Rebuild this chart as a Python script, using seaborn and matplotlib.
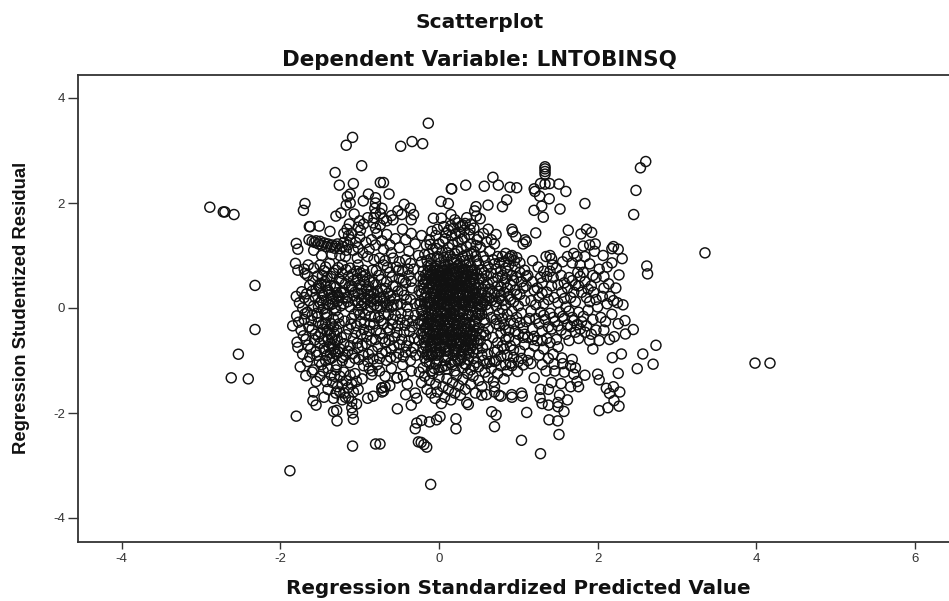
import matplotlib
matplotlib.use("Agg")
import matplotlib.pyplot as plt
import seaborn as sns
import pandas as pd

title_main = "Scatterplot"
title_sub = "Dependent Variable: LNTOBINSQ"
x_label = "Regression Standardized Predicted Value"
y_label = "Regression Studentized Residual"
x_ticks = [-4, -2, 0, 2, 4, 6]
y_ticks = [-4, -2, 0, 2, 4]

outliers = [(-2.89,1.92),(-2.72,1.83),(-2.70,1.83),(-2.585,1.78),(-2.32,.43),(-2.32,-.41),(-2.53,-.88),(-2.62,-1.33),(-2.405,-1.35),
(-1.80,-2.06),(-1.88,-3.10),(-1.09,-2.63),(-.80,-2.59),(-1.09,3.25),(-1.17,3.10),(-.975,2.71),(-1.31,2.58),(-1.257,2.34),(-1.08,2.37),
(-.135,3.52),(-.483,3.08),(-.34,3.17),(-.206,3.13),(2.607,2.79),(2.54,2.67),(2.484,2.24),(2.455,1.78),(2.62,.80),(2.63,.65),
(3.354,1.05),(3.985,-1.05),(4.174,-1.05),(-.105,-3.36),(1.28,-2.775),(1.04,-2.52),(1.513,-2.41),(2.736,-.71),(2.57,-.876),(2.70,-1.07),(2.50,-1.155)]

top_right_column = [(1.337,2.69),(1.337,2.65),(1.337,2.6),(1.337,2.55),(1.337,2.36),(1.28,2.37),(1.395,2.37),(1.513,2.36),(1.6,2.22),(1.2,2.27),(1.21,2.22),(1.27,2.13),(1.39,2.08),(1.84,1.99),(1.526,1.885),(1.295,1.94),(1.198,1.86),(1.315,1.73),(.68,2.49),(.571,2.32),(.748,2.34),(.895,2.30),(.98,2.29),(.854,2.06),(.8,1.93)]

upper_left = [(-.74,2.39),(-1.69,1.99),(-1.71,1.86),(-1.12,2.17),(-1.156,2.12),(-.89,2.17),(-.955,2.04),(-1.12,2.0),(-1.17,1.96),(-1.236,1.81),(-1.30,1.75),(-1.07,1.79),
(-1.635,1.55),(-1.625,1.55),(-1.51,1.56),(-1.375,1.46),(-1.80,1.23),(-1.78,1.12),(-1.81,.85),(-1.65,.82),(-1.70,.74),(-1.78,.72),(-1.66,.62),(-1.69,.66),
(-.63,2.17),(-.70,2.39),(-.44,1.975),(-.36,1.9),(-.32,1.78),(-.35,1.68),(-.52,1.85),(-.47,1.78),(-.58,1.68),(-.6,1.76),(-.66,1.66),(-.72,1.9),(-.74,1.8),(-.7,1.7),
(-.8,2.1),(-.8,2.0),(-.81,1.9),(-.8,1.8),(-.82,1.72),(-.83,1.62),(-.9,1.72),(-1.0,1.66),(-.95,1.6),(-1.02,1.54),(-.99,1.48),(-1.13,1.6),(-1.16,1.5),(-1.1,1.42),(-1.14,1.38),(-1.2,1.42),
(-1.64,1.30),(-1.6,1.27),(-1.57,1.25),(-1.55,1.28),(-1.52,1.22),(-1.5,1.27),(-1.48,1.2),(-1.45,1.24),(-1.42,1.17),(-1.4,1.22),(-1.37,1.16),(-1.35,1.2),(-1.32,1.14),(-1.3,1.18),(-1.28,1.22),(-1.25,1.13),
(-1.22,1.17),(-1.2,1.25),(-1.17,1.1),(-1.15,1.2),(-1.12,1.3),(-1.08,1.1),(-1.05,1.25),(-1.02,1.15),(-1.0,1.35),(-.96,1.05),(-.92,1.25),(-.88,1.12),(-.85,1.3),(-.8,1.2),(-.78,1.42),(-.8,1.52),
(-.72,1.28),(-.7,1.12),(-.66,1.4),(-.62,1.2),(-.6,1.05),(-.55,1.32),(-.5,1.15),(-.46,1.5),(-.42,1.3),(-.38,1.08),(-.35,1.42),(-.3,1.22),(-.74,1.58),(-1.58,1.1),(-1.48,1.0),(-1.35,1.02),(-1.25,1.0),(-1.18,.98),
(-1.03,.95),(-.9,.98),(-.82,.92),(-.75,.95),(-.68,.9),(-.58,.95),(-.5,.88),(-.42,.92),(-.36,.85),(-1.38,.85),(-1.43,.78),(-1.5,.82),(-1.58,.76),(-1.3,.72),(-1.22,.82),(-1.12,.76),(-1.02,.82),(-.95,.72)]

left_body = [(-1.8,.22),(-1.76,.1),(-1.72,.0),(-1.7,.2),(-1.66,-.08),(-1.64,.14),(-1.6,.32),(-1.58,.04),(-1.56,.2),(-1.54,-.1),(-1.52,.42),(-1.5,.1),(-1.48,.28),(-1.46,-.02),(-1.44,.5),(-1.42,.16),(-1.4,.34),(-1.38,.05),(-1.36,.6),(-1.34,.22),
(-1.32,.42),(-1.3,-.05),(-1.28,.12),(-1.26,.55),(-1.24,.3),(-1.22,.66),(-1.2,.08),(-1.18,.46),(-1.16,.2),(-1.14,.6),(-1.12,.02),(-1.1,.36),(-1.08,.52),(-1.06,.14),(-1.04,.7),(-1.02,.28),(-1.0,.44),(-.98,.04),(-.96,.6),(-.94,.2),
(-.92,.36),(-.9,-.04),(-.88,.52),(-.86,.12),(-.84,.72),(-.82,.28),(-.8,.44),(-.78,.04),(-.76,.62),(-.74,.2),(-.72,.36),(-.7,.82),(-.68,.1),(-.66,.5),(-.64,.28),(-.62,.68),(-.6,.02),(-.58,.42),(-.56,.18),(-.54,.78),(-.52,.32),(-.5,.56),(-.48,.08),(-.46,.7),(-.44,.24),(-.42,.48),(-.4,.02),(-.38,.62),(-.36,.16),(-.34,.38),(-.32,.74),(-.3,.08),
(-1.845,-.34),(-1.795,-.15),(-1.79,-.65),(-1.78,-.75),(-1.75,-1.12),(-1.68,-1.29),(-1.74,-.42),(-1.72,-.88),(-1.7,-.22),(-1.68,-.6),(-1.66,-1.02),(-1.64,-.36),(-1.62,-.78),(-1.6,-.14),(-1.58,-1.18),(-1.56,-.5),(-1.54,-.9),(-1.52,-.28),(-1.5,-.68),(-1.48,-1.08),(-1.46,-.4),(-1.44,-.82),(-1.42,-.18),(-1.4,-.6),(-1.38,-.98),
(-1.36,-.3),(-1.34,-.72),(-1.32,-.5),(-1.3,-.88),(-1.28,-.62),(-1.26,-.3),(-1.25,-.78),(-1.22,-1.0),(-1.2,-.68),(-1.18,-.9),(-1.14,-.4),(-1.12,-.72),(-1.1,-.2),(-1.08,-.58),(-1.06,-.96),(-1.04,-.34),(-1.02,-.76),(-1.0,-.12),(-.98,-.5),(-.96,-.9),(-.94,-.28),(-.92,-.68),(-.9,-1.02),(-.88,-.44),(-.86,-.16),(-.84,-.82),(-.82,-.3),(-.8,-.6),(-.78,-1.08),(-.76,-.18),(-.74,-.48),(-.72,-.86),(-.7,-.3),(-.68,-.66),(-.66,-1.0),(-.64,-.12),(-.62,-.42),(-.6,-.78),(-.58,-.22),(-.56,-.56),(-.54,-.94),(-.52,-.34),(-.5,-.7),(-.48,-.1),(-.46,-1.08),(-.44,-.46),(-.42,-.84),(-.4,-.24),(-.38,-.62),(-.36,-1.0),(-.34,-.36),(-.32,-.76),(-.3,-.14),
(-1.6,-.4),(-1.52,-.55),(-1.47,.62),(-1.41,-.44),(-1.37,-.5),(-1.33,-.36),(-1.31,-.62),(-1.35,-.58),(-1.39,-.74),(-1.43,-.3),(-1.29,-.42),(-1.27,-.84),(-1.33,-.78),(-1.37,-.86),(-1.41,-.9),(-1.45,-.62),(-1.49,-.48),(-1.1,.42),(-1.06,.3),(-1.02,.1),(-.98,.36),(-.94,.5),(-.9,.16),(-.86,.32),(-.82,.06),(-1.15,.12),(-1.2,.3),(-1.26,.2),(-1.3,.4),(-1.34,.08),(-1.38,.3),(-1.42,.42),(-1.46,.24),(-1.5,.38)]

left_extra = [(-1.73,.31),(-1.67,.27),(-1.63,.43),(-1.59,.52),(-1.55,.36),(-1.53,.61),(-1.49,.47),(-1.45,.71),(-1.41,.58),(-1.37,.43),(-1.33,.66),(-1.29,.29),(-1.27,.77),(-1.23,.51),(-1.21,.19),(-1.17,.73),(-1.13,.41),(-1.09,.64),(-1.07,.23),(-1.03,.56),
(-.99,.67),(-.97,.27),(-.93,.63),(-.89,.41),(-.87,.24),(-.83,.49),(-.79,.71),(-.77,.31),(-.73,.54),(-.71,.13),(-.67,.37),(-.65,.77),(-.61,.23),(-.59,.59),(-.55,.41),(-.53,.06),(-.51,.72),(-.47,.33),(-.45,.53),(-.41,.16),(-.39,.74),(-.35,.51),
(-1.77,-.27),(-1.71,-.53),(-1.69,-.11),(-1.65,-.71),(-1.63,-.93),(-1.61,-.24),(-1.57,-.61),(-1.55,-.83),(-1.53,-.17),(-1.51,-1.02),(-1.47,-.31),(-1.45,-.77),(-1.43,-1.0),(-1.41,-.12),(-1.39,-.41),(-1.37,-.68),(-1.35,-.95),(-1.33,-.21),(-1.31,-.83),(-1.29,-1.08),(-1.27,-.18),(-1.23,-.56),(-1.21,-.94),(-1.19,-.25),(-1.17,-.51),(-1.15,-.82),(-1.13,-1.04),(-1.11,-.31),(-1.09,-.87),(-1.07,-.12),(-1.05,-.47),(-1.03,-.67),(-1.01,-.98),(-.99,-.26),(-.97,-.72),(-.95,-.41),(-.93,-.13),(-.91,-.54),(-.89,-.88),(-.87,-.32),(-.85,-.62),(-.83,-.97),(-.81,-.17),(-.79,-.43),(-.77,-.74),(-.75,-.96),(-.73,-.24),(-.71,-.58),(-.69,-.11),(-.67,-.83),(-.65,-.38),(-.63,-.62),(-.61,-.94),(-.59,-.31),(-.57,-.72),(-.55,-.14),(-.53,-.47),(-.51,-.86),(-.49,-.22),(-.47,-.6),(-.45,-.93),(-.43,-.33),(-.41,-.72),(-.39,-.12),(-.37,-.45),(-.35,-.84),(-.33,-.24),(-.31,-.58),(-.29,-.9),
(-1.52,.02),(-1.48,.14),(-1.44,-.1),(-1.4,.08),(-1.36,.18),(-1.32,.0),(-1.28,.24),(-1.24,.04),(-1.02,-.04),(-.98,.16),(-.94,.08),(-.9,.26),(-.86,.02),(-.82,.18),(-.78,.14),(-.74,.02),(-.7,.22),(-.66,.02),(-.62,.14),(-.58,.06)]

lower_left = [(-1.58,-1.6),(-1.59,-1.765),(-1.55,-1.85),(-1.45,-1.7),(-1.33,-1.72),(-1.04,-1.83),(-1.1,-1.78),(-.97,-1.35),(-.84,-1.2),(-.85,-1.27),(-.9,-1.72),(-.83,-1.68),(-.72,-1.6),(-.70,-1.58),(-1.286,-2.15),(-1.08,-2.12),(-1.09,-2.0),(-1.29,-1.95),(-1.33,-1.97),
(-1.5,-1.3),(-1.46,-1.2),(-1.42,-1.4),(-1.4,-1.55),(-1.36,-1.28),(-1.34,-1.42),(-1.3,-1.18),(-1.28,-1.5),(-1.25,-1.6),(-1.25,-1.3),(-1.22,-1.45),(-1.2,-1.62),(-1.2,-1.22),(-1.17,-1.38),(-1.15,-1.52),(-1.14,-1.7),(-1.12,-1.28),(-1.1,-1.45),(-1.08,-1.6),(-1.06,-1.25),(-1.04,-1.4),(-1.02,-1.55),
(-1.3,-1.62),(-1.32,-1.3),(-1.18,-1.7),(-1.22,-1.75),(-1.1,-1.9),(-1.4,-1.15),(-1.55,-1.4),(-1.6,-1.22),(-.95,-1.1),(-.88,-1.15),(-.75,-1.2),(-.68,-1.3),(-.6,-1.15),(-.53,-1.33),(-.72,-1.52),(-.62,-1.48),(-.45,-1.3),(-.4,-1.45),(-.35,-1.2),(-.3,-1.62),(-.42,-1.65),(-.525,-1.92),(-.35,-1.85),(-.28,-1.72)]

upper_core = [(-.07,1.71),(.03,1.71),(.15,1.78),(.2,1.68),(.025,2.03),(.118,1.99),(.155,2.27),(.16,2.27),(.337,2.34),(.467,1.93),(.45,1.85),(.618,1.96),(.47,1.75),(.52,1.7),(.35,1.72),(.4,1.6),(.3,1.58),(.24,1.62),(-.02,1.5),(.06,1.55),(.12,1.48),(.18,1.52),(.26,1.44),(.32,1.48),(.38,1.4),(.44,1.52),(.5,1.36),(.56,1.42),(.62,1.5),(.66,1.3),(.72,1.4),(.7,1.22),
(-.22,1.38),(-.16,1.2),(-.12,1.3),(-.08,1.12),(-.04,1.38),(.0,1.22),(.04,1.08),(.08,1.32),(.12,1.15),(.16,1.38),(.2,1.04),(.24,1.26),(.28,1.12),(.32,1.34),(.36,1.02),(.4,1.22),(.44,1.08),(.48,1.3),(.52,1.16),(.56,.98),(.6,1.26),(.64,1.08),(.68,.92),
(-.26,1.0),(-.22,.88),(-.18,1.02),(-.14,.8),(-.1,.94),(-.06,.72),(-.02,.98),(.02,.86),(.06,.96),(.1,.74),(.14,1.0),(.18,.86),(.22,.92),(.26,.7),(.3,.98),(.34,.82),(.38,.9),(.42,.72),(.46,.98),(.5,.84),(.54,.72),(.58,.9),(.62,.78),(.66,.66),(.7,.84),(.74,.98),(.78,.7),(.82,.88),
(-.11,1.21),(-.03,1.13),(.05,1.27),(.11,1.05),(.17,1.21),(.23,1.09),(.29,1.31),(.35,1.17),(.41,1.03),(.47,1.19),(.09,1.43),(.15,1.57),(.21,1.41),(.27,1.55),(.33,1.61),(.39,1.49),(-.09,1.46),(-.13,1.03),(.0,.93),(.08,.83),(.16,.93),(.24,.81),(.32,.9),(.4,.8),(.48,.9)]

core = [(-.24,.6),(-.2,.7),(-.2,.45),(-.18,.2),(-.16,.55),(-.16,.02),(-.14,.36),(-.14,-.18),(-.12,.62),(-.12,.12),(-.1,.46),(-.1,-.06),(-.08,.28),(-.08,.68),(-.06,.04),(-.06,.5),(-.04,.2),(-.04,.8),(-.02,.36),(-.02,-.12),(.0,.62),(.0,.12),(.02,.44),(.02,-.04),(.04,.72),(.04,.24),(.06,.54),(.06,.06),(.08,.36),(.08,-.14),(.1,.62),(.1,.16),(.12,.82),(.12,.44),(.14,-.02),(.14,.26),(.16,.66),(.16,.1),(.18,.5),(.18,-.1),(.2,.34),(.2,.76),(.22,.04),(.22,.56),(.24,.2),(.24,-.16),(.26,.42),(.26,.84),(.28,.08),(.28,.6),(.3,.26),(.3,-.06),(.32,.48),(.32,.74),(.34,.12),(.34,.34),(.36,.62),(.36,-.12),(.38,.22),(.38,.5),(.4,.02),(.4,.7),(.42,.36),(.44,.12),(.44,.56),(.46,-.08),(.46,.3),(.48,.64),(.5,.18),(.5,.44),(.52,-.02),(.54,.56),(.54,.28),(.56,.1),(.58,.42),(.6,.22),(.6,.62),(.62,-.04),(.64,.36),(.66,.14),(.68,.5),(.7,.28),(.72,.04),(.74,.58),(.76,.18),(.78,.4),
(-.26,-.3),(-.22,-.5),(-.2,-.75),(-.2,-.15),(-.18,-.38),(-.18,-.95),(-.16,-.6),(-.14,-.28),(-.14,-.82),(-.12,-.46),(-.12,-1.05),(-.1,-.2),(-.1,-.68),(-.08,-.34),(-.08,-.9),(-.06,-.54),(-.06,-1.15),(-.04,-.24),(-.04,-.76),(-.02,-.42),(-.02,-1.0),(.0,-.6),(.0,-.16),(.02,-.84),(.02,-.32),(.04,-.52),(.04,-1.12),(.06,-.7),(.06,-.24),(.08,-.44),(.08,-.94),(.1,-.6),(.1,-.12),(.12,-.8),(.12,-.34),(.14,-.52),(.14,-1.05),(.16,-.22),(.16,-.7),(.18,-.42),(.18,-.9),(.2,-.58),(.2,-.14),(.22,-.78),(.22,-.32),(.24,-.5),(.24,-1.0),(.26,-.68),(.26,-.2),(.28,-.4),(.28,-.88),(.3,-.56),(.3,-.12),(.32,-.74),(.32,-.3),(.34,-.48),(.34,-1.08),(.36,-.64),(.38,-.28),(.38,-.86),(.4,-.44),(.42,-.14),(.42,-.7),(.44,-.34),(.44,-.96),(.46,-.54),(.48,-.2),(.48,-.78),(.5,-.38),(.52,-.62),(.54,-.12),(.54,-.9),(.56,-.46),(.58,-.28),(.6,-.7),(.62,-.4),(.64,-1.02),(.66,-.18),(.68,-.56),(.7,-.84),(.72,-.3),(.74,-.66),(.76,-.1),(.78,-.48),
(-.15,.9),(-.1,.82),(-.05,.58),(-.02,.72),(.03,.55),(.07,.72),(.11,.3),(.13,.58),(.17,.38),(.19,.02),(.21,.62),(.23,.42),(.27,.24),(.29,.72),(.31,.12),(.33,.54),(.35,.2),(.37,.4),(.39,.1),(.41,.6),(.43,.26),(.45,.46),(.47,.14),(-.11,.2),(-.09,.38),(-.07,.14),(-.05,.32),(-.03,.02),(-.01,.5),(.01,.26),(.03,.08),(.05,.36),(.07,.18),(.09,.52),(.11,.02),(.13,.14),(-.13,-.1),(-.11,-.3),(-.09,-.5),(-.07,-.66),(-.05,-.1),(-.03,-.36),(-.01,-.58),(.01,-.76),(.03,-.2),(.05,-.44),(.07,-.6),(.09,-.82),(.11,-.22),(.13,-.46),(.15,-.66),(.17,-.1),(.19,-.3),(.21,-.48),(.23,-.66),(.25,-.84),(.27,-.08),(.29,-.26),(.31,-.44),(.33,-.62),(.35,-.8),(.37,-.14),(.39,-.52),(-.15,-.5),(-.17,-.72),(-.19,-.3),(-.13,-.92),(-.03,-.9),(.07,-1.0),(.17,-1.08),(.27,-1.0),(.37,-.98),(.47,-1.04)]

core_extra = [(-.25,.33),(-.23,.12),(-.21,-.03),(-.19,.37),(-.17,.63),(-.15,.11),(-.13,.48),(-.11,.72),(-.09,.05),(-.07,.57),(-.05,.76),(-.03,.43),(-.01,.17),(.01,.68),(.03,.32),(.05,.61),(.07,.47),(.09,.23),(.11,.66),(.13,.33),(.15,.53),(.17,.75),(.19,.2),(.21,.45),(.23,.67),(.25,.12),(.27,.52),(.29,.36),(.31,.62),(.33,.03),(.35,.44),(.37,.7),(.39,.29),(.41,.15),(.43,.53),(.45,.72),(.47,.38),(.49,.06),(.51,.55),(.53,.13),(.55,.36),(.57,.67),(.59,.06),(.61,.46),(.63,.19),
(-.24,.07),(-.22,.27),(-.2,.55),(-.18,.49),(-.16,.29),(-.14,.69),(-.12,.39),(-.1,.6),(-.08,.52),(-.06,.27),(-.04,.64),(-.02,.54),(.0,.4),(.02,.61),(.04,.12),(.06,.42),(.08,.6),(.1,.07),(.12,.23),(.14,.72),(.16,.44),(.18,.28),(.2,.12),(.22,.7),(.24,.47),(.26,.28),(.28,.42),(.3,.68),(.32,.1),(.34,.6),(.36,.3),(.38,.06),(.4,.5),(.42,.64),(.44,.33),
(-.25,-.62),(-.23,-.24),(-.21,-.84),(-.19,-.55),(-.17,-.16),(-.15,-.88),(-.13,-.4),(-.11,-.74),(-.09,-.14),(-.07,-.44),(-.05,-.84),(-.03,-.62),(-.01,-.26),(.01,-.48),(.03,-.72),(.05,-.08),(.07,-.34),(.09,-.56),(.11,-.92),(.13,-.28),(.15,-.1),(.17,-.54),(.19,-.78),(.21,-.22),(.23,-.42),(.25,-.6),(.27,-.74),(.29,-.94),(.31,-.22),(.33,-.4),(.35,-.58),(.37,-.72),(.39,-.3),(.41,-.6),(.43,-.84),(.45,-.24),(.47,-.44),(.49,-.68),(.51,-.14),(.53,-.5),(.55,-.76),(.57,-.22),(.59,-.52),(.61,-.88),
(-.2,-.44),(-.18,-.66),(-.16,-.38),(-.14,-.58),(-.12,-.24),(-.1,-.9),(-.08,-.6),(-.06,-.3),(-.04,-.5),(-.02,-.68),(.0,-.86),(.02,-.22),(.04,-.38),(.06,-.56),(.08,-.74),(.1,-.4),(.12,-.6),(.14,-.16),(.16,-.44),(.18,-.62),(.2,-.84),(.22,-.5),(.24,-.3),(.26,-.46),(.28,-.64),(.3,-.8),(.32,-.52),(.34,-.2),(.36,-.42),(.38,-.6),(.4,-.76),(.42,-.5),(.44,-.62),(.46,-.3),
(-.22,-.06),(-.18,.08),(-.14,.1),(-.1,.1),(-.06,-.02),(-.02,.1),(.02,.18),(.06,.28),(.1,.4),(.14,.06),(.18,.12),(.22,.3),(.26,.1),(.3,.4),(.34,.24),(.38,.38),(.42,.1),(.46,.2),(.5,-.1),(.54,.02),(.58,.14),(.62,.3)]

lower_core = [(-.744,-2.59),(.013,-2.07),(-.03,-2.13),(-.12,-2.17),(-.22,-2.14),(-.28,-2.19),(-.3,-2.3),(-.26,-2.55),(-.225,-2.56),(-.19,-2.6),(-.155,-2.65),(.214,-2.11),(.214,-2.3),(.664,-1.975),(.72,-2.04),(.70,-2.26),(1.106,-1.99),(1.387,-2.13),(1.497,-2.15),(1.576,-1.97),
(.35,-1.8),(.37,-1.84),(.54,-1.66),(.6,-1.65),(.756,-1.66),(.917,-1.65),(.92,-1.7),(1.04,-1.62),(1.05,-1.68),(1.274,-1.71),(.685,-1.40),(1.063,-1.085),(.99,-1.21),(1.2,-1.33),(-.53,-1.33),(-.72,-1.52),(-.68,-1.5),
(-.25,-1.22),(-.22,-1.42),(-.18,-1.3),(-.15,-1.55),(-.12,-1.38),(-.1,-1.62),(-.08,-1.25),(-.05,-1.72),(-.04,-1.45),(-.02,-1.6),(.0,-1.32),(.03,-1.82),(.05,-1.5),(.07,-1.7),(.1,-1.35),(.12,-1.55),(.15,-1.75),(.17,-1.42),(.2,-1.62),(.22,-1.28),(.25,-1.48),(.27,-1.66),(.3,-1.36),(.33,-1.55),(.36,-1.25),(.4,-1.45),(.43,-1.3),(.46,-1.62),(.5,-1.38),(.54,-1.5),(.58,-1.22),(.62,-1.32),(.66,-1.15),(.7,-1.5),(.74,-1.25),(.78,-1.1),(.82,-1.35),(.86,-1.2),(.9,-1.05),
(-.2,-1.14),(-.1,-1.2),(.0,-1.18),(.1,-1.16),(.2,-1.2),(.3,-1.14),(.4,-1.18),(.5,-1.12),(.6,-1.06),(.7,-1.02),(-.16,-1.02),(-.04,-1.06),(.08,-1.1),(.2,-1.0),(.32,-1.06),(.44,-1.1),(.56,-1.0)]

right_body = [(.8,.98),(.92,1.5),(.93,1.45),(.97,1.36),(1.085,1.3),(1.1,1.26),(1.06,1.22),(1.22,1.43),(.84,1.04),(.9,.98),(.95,.9),(.88,.82),(.96,.78),(1.02,.86),(1.08,.72),(.86,.7),(.92,.62),(.84,.56),(.98,.58),(1.04,.5),(1.1,.42),(.9,.44),(.96,.34),(.82,.3),(.88,.22),(1.02,.26),(1.08,.14),(.94,.12),(1.0,.04),(.84,.06),
(1.4,1.0),(1.35,.98),(1.42,.94),(1.43,.82),(1.4,.7),(1.36,.6),(1.3,.48),(1.42,.42),(1.36,.3),(1.2,.34),(1.26,.2),(1.16,.14),(1.22,.06),(1.32,.08),(1.45,.2),(1.5,.1),(1.55,.3),(1.58,.48),(1.62,.38),(1.68,.52),(1.72,.44),(1.78,.6),(1.84,.5),(1.66,.2),(1.72,.12),(1.6,.02),(1.8,.3),(1.86,.2),(1.92,.42),(1.95,.3),(1.98,.58),(1.9,.12),(1.75,.68),(1.7,1.04),(1.74,.98),(1.59,1.26),(1.63,1.48),(1.86,1.5),(1.79,1.41),(1.925,1.44),(1.97,1.22),(1.9,1.2),(1.82,1.18),(1.84,.98),(1.96,1.08),(1.9,.84),(1.78,.82),(2.2,1.17),(2.18,1.13),(2.26,1.12),(2.31,.94),(2.07,1.0),(2.27,.63),(2.08,.38),(2.23,.38),(2.155,.22),(2.32,.06),(2.25,.1),(2.12,.08),(2.0,.02),(1.18,.9),(1.25,.78),(1.12,.62),(1.18,.5),
(.8,-.02),(.86,-.12),(.92,-.06),(.98,-.18),(1.04,-.1),(1.1,-.26),(1.16,-.06),(1.22,-.2),(1.28,-.08),(1.34,-.22),(1.4,-.1),(1.46,-.26),(1.52,-.08),(1.58,-.2),(1.64,-.06),(1.7,-.24),(1.76,-.08),(1.82,-.16),(1.88,-.04),(1.94,-.22),(.82,-.32),(.88,-.42),(.94,-.3),(1.0,-.5),(1.06,-.38),(1.12,-.56),(1.18,-.4),(1.24,-.62),(1.3,-.44),(1.36,-.58),(1.42,-.4),(1.48,-.6),(1.54,-.42),(1.6,-.5),(1.66,-.36),(1.72,-.46),(1.78,-.4),(1.84,-.46),(2.21,-.546),(2.15,-.6),(2.08,-.42),(2.35,-.495),(2.45,-.41),(2.345,-.24),(1.94,-.78),(2.186,-.946),(2.30,-.876),
(.84,-.6),(.9,-.72),(.96,-.62),(1.02,-.82),(1.08,-.7),(.86,-.9),(.94,-.94),(1.0,-1.02),(.82,-.78),(1.14,-.86),(1.2,-.72),(1.26,-.9),(1.32,-.78),(1.38,-.96),(1.12,-1.0),(.78,-.92),(.84,-1.08),
(2.26,-1.245),(2.0,-1.26),(2.02,-1.37),(1.84,-1.28),(2.11,-1.53),(2.2,-1.5),(2.28,-1.6),(2.15,-1.625),(2.207,-1.765),(2.27,-1.87),(2.13,-1.9),(2.02,-1.955),
(1.45,-1.07),(1.56,-1.06),(1.66,-1.1),(1.72,-1.14),(1.68,-.98),(1.55,-.95),(1.35,-1.2),(1.46,-1.2),(1.58,-1.22),(1.7,-1.26),(1.74,-1.4),(1.42,-1.42),(1.54,-1.44),(1.66,-1.5),(1.76,-1.5),(1.38,-1.55),(1.52,-1.66),(1.62,-1.75),(1.5,-1.8),(1.38,-1.85),(1.5,-1.88),(.7,-1.6),(.78,-1.68),(1.28,-1.55),(1.3,-1.82)]

right_extra = [(.72,.74),(.76,.86),(.8,.62),(.74,.42),(.78,.24),(.82,.48),(.86,.38),(.9,.16),(.94,.52),(.98,.26),(1.02,.68),(1.06,.38),(1.1,.6),(.84,.76),(.88,.94),(.92,1.0),(.98,.96),(.76,.32),(.72,.12),(.8,.14),
(1.32,.7),(1.28,.58),(1.24,.38),(1.3,.28),(1.38,.16),(1.44,.58),(1.5,.44),(1.54,.62),(1.58,.18),(1.64,.58),(1.7,.3),(1.76,.42),(1.82,.68),(1.88,.36),(1.94,.62),(2.02,.74),(2.08,.6),(2.12,.78),(2.18,.86),(2.06,.22),(1.98,.16),(2.14,.46),(2.2,.14),(1.48,.76),(1.56,.88),(1.62,.98),(1.68,.86),
(.72,-.22),(.76,-.34),(.8,-.2),(.84,-.42),(.9,-.24),(.96,-.44),(1.02,-.28),(1.08,-.5),(1.14,-.2),(1.2,-.54),(1.26,-.3),(1.32,-.14),(1.38,-.36),(1.44,-.18),(1.5,-.34),(1.56,-.16),(1.62,-.32),(1.68,-.18),(1.74,-.32),(1.8,-.26),(1.86,-.34),(1.92,-.5),(1.98,-.42),(2.04,-.18),(2.1,-.26),(2.18,-.12),(2.26,-.3),(2.02,-.62),(1.9,-.62),(1.76,-.58),(1.64,-.62),(1.5,-.74),(1.4,-.66),(1.3,-.62),(1.18,-.6),(1.06,-.56),(.94,-.8),(.88,-.56),(.8,-.72),(.74,-.8),(.72,-1.0),(.92,-1.1),(1.04,-.96),(1.16,-1.06),(1.3,-1.08),(1.44,-.88)]

points = pd.DataFrame(outliers + top_right_column + upper_left + left_body + left_extra + lower_left + upper_core + core + core_extra + lower_core + right_body + right_extra,
                      columns=["pred", "resid"])

sns.set_theme(style="white")
plt.rcParams["font.family"] = ["Liberation Sans", "DejaVu Sans"]
plt.rcParams["axes.unicode_minus"] = False

fig = plt.figure(figsize=(9.49, 6.01), dpi=100)
ax = fig.add_axes([78 / 949, 1 - 542 / 601, (949 - 78 + 2) / 949, (542 - 75) / 601])

sns.scatterplot(data=points, x="pred", y="resid", ax=ax, marker="o", s=52,
                facecolors="none", edgecolor="#111111", linewidth=1.05, legend=False)

ax.set_xlim((78 - 439) / 79.3, (951 - 439) / 79.3)
ax.set_ylim((308 - 542) / 52.5, (308 - 75) / 52.5)
ax.set_xticks(x_ticks)
ax.set_yticks(y_ticks)
ax.tick_params(axis="x", direction="out", length=5, width=1.0, color="#333333",
               labelsize=9.5, labelcolor="#333333", pad=3, bottom=True)
ax.tick_params(axis="y", direction="out", length=7.5, width=1.0, color="#333333",
               labelsize=9.5, labelcolor="#333333", pad=2, left=True)
for side in ["top", "left", "bottom"]:
    ax.spines[side].set_visible(True)
    ax.spines[side].set_linewidth(1.3)
    ax.spines[side].set_color("#333333")
ax.spines["right"].set_visible(False)
ax.set_xlabel("")
ax.set_ylabel("")

fig.text(480 / 949, 1 - 22 / 601, title_main, ha="center", va="center", fontsize=14.5, fontweight="bold",
         family="DejaVu Sans", color="#111111")
fig.text(479 / 949, 1 - 60 / 601, title_sub, ha="center", va="center", fontsize=15.4, fontweight="bold",
         family="DejaVu Sans", color="#111111")
fig.text(518.5 / 949, 1 - 588 / 601, x_label, ha="center", va="center", fontsize=14.3, fontweight="bold",
         family="DejaVu Sans", color="#111111")
fig.text(22 / 949, 1 - 307.5 / 601, y_label, ha="center", va="center", rotation=90, fontsize=13.3, fontweight="bold", color="#111111")

fig.savefig("out.png", dpi=100)
